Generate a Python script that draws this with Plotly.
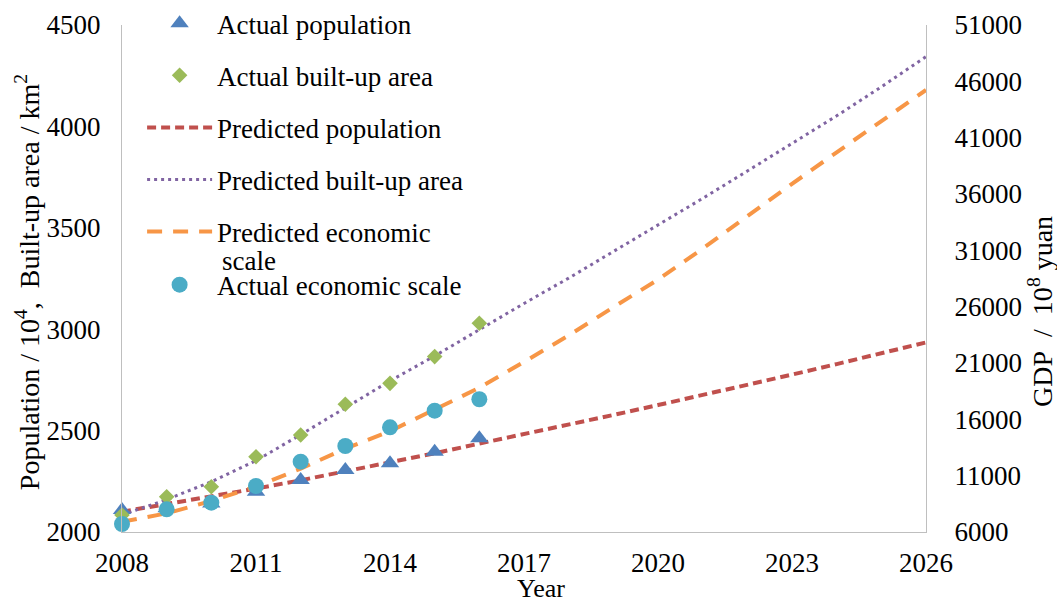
import plotly.graph_objects as go

# ---- data ----
years_actual = [2008, 2009, 2010, 2011, 2012, 2013, 2014, 2015, 2016]
pop_actual = [2108, 2117, 2141, 2199, 2256, 2306, 2339, 2396, 2462]
area_actual = [2084, 2174, 2223, 2371, 2478, 2630, 2733, 2865, 3029]
gdp_actual = [6710, 8015, 8600, 10083, 12240, 13633, 15290, 16770, 17780]

years_pred = [2008, 2009, 2010, 2011, 2012, 2013, 2014, 2015, 2016, 2017,
              2018, 2019, 2020, 2021, 2022, 2023, 2024, 2025, 2026]
pop_pred = [2100, 2137, 2175, 2214, 2255, 2298, 2342, 2388, 2436, 2482,
            2529, 2577, 2626, 2675, 2725, 2776, 2828, 2881, 2935]
area_pred = [2084, 2160, 2248, 2352, 2480, 2612, 2745, 2868, 2998, 3127,
             3252, 3382, 3512, 3645, 3780, 3915, 4052, 4195, 4344]
gdp_pred = [6900, 7660, 8750, 10050, 11620, 13400, 14950, 16850, 18800, 21100,
            23450, 25950, 28400, 31150, 34050, 36900, 39700, 42450, 45230]

FONT = "Liberation Serif"
AX = "#BFBFBF"

fig = go.Figure()

# predicted lines (drawn first, below markers)
fig.add_trace(go.Scatter(x=years_pred, y=pop_pred, mode="lines", name="Predicted population",
                         line=dict(color="#C0504D", width=4, dash="9px,5px"),
                         legendrank=3, legendgroup="g3"))
fig.add_trace(go.Scatter(x=years_pred, y=area_pred, mode="lines", name="Predicted built-up area",
                         line=dict(color="#8064A2", width=3, dash="3px,4px"),
                         legendrank=4, legendgroup="g4"))
fig.add_trace(go.Scatter(x=years_pred, y=gdp_pred, mode="lines", name="Predicted economic",
                         line=dict(color="#F79646", width=4, dash="15px,11px"),
                         yaxis="y2", legendrank=5, legendgroup="g5"))

# actual markers
fig.add_trace(go.Scatter(x=years_actual, y=pop_actual, mode="markers", name="Actual population",
                         marker=dict(symbol="triangle-up", size=16, color="#4F81BD"),
                         cliponaxis=False, legendrank=1, legendgroup="g1"))
fig.add_trace(go.Scatter(x=years_actual, y=area_actual, mode="markers", name="Actual built-up area",
                         marker=dict(symbol="diamond", size=12, color="#9BBB59"),
                         cliponaxis=False, legendrank=2, legendgroup="g2"))
fig.add_trace(go.Scatter(x=years_actual, y=gdp_actual, mode="markers", name="Actual economic scale",
                         marker=dict(symbol="circle", size=16, color="#4BACC6"),
                         yaxis="y2", cliponaxis=False, legend="legend2"))

fig.update_layout(
    width=1057, height=600,
    margin=dict(l=122, r=131, t=25, b=68, autoexpand=False),
    paper_bgcolor="white", plot_bgcolor="white",
    font=dict(family=FONT, size=26, color="black"),
    showlegend=True,
    legend=dict(x=0.025, y=1.051, xanchor="left", yanchor="top",
                bgcolor="rgba(0,0,0,0)", font=dict(family=FONT, size=27),
                traceorder="grouped", tracegroupgap=14, itemwidth=65, valign="top"),
    legend2=dict(x=0.025, y=0.487, xanchor="left", yanchor="middle",
                 bgcolor="rgba(0,0,0,0)", font=dict(family=FONT, size=27),
                 itemwidth=65),
    xaxis=dict(range=[2008, 2026], tick0=2008, dtick=3, showgrid=False, zeroline=False,
               showline=True, linecolor=AX, linewidth=1, ticks="",
               tickfont=dict(family=FONT, size=27), ticklabelstandoff=7),
    yaxis=dict(range=[2000, 4500], tick0=2000, dtick=500, showgrid=False, zeroline=False,
               showline=True, linecolor=AX, linewidth=1, ticks="",
               tickfont=dict(family=FONT, size=27), ticklabelstandoff=15),
    yaxis2=dict(range=[6000, 51000], tick0=6000, dtick=5000, overlaying="y", side="right",
                showgrid=False, zeroline=False, showline=True, linecolor=AX, linewidth=1,
                ticks="", tickformat="d", tickfont=dict(family=FONT, size=27),
                ticklabelstandoff=22),
    annotations=[
        # second line of the "Predicted economic scale" legend entry
        dict(text="scale", xref="paper", yref="paper", x=0.1219, y=0.535,
             xanchor="left", yanchor="middle", showarrow=False,
             font=dict(family=FONT, size=27)),
        dict(text="Year", xref="paper", yref="paper", x=0.521, y=-0.112,
             xanchor="center", yanchor="middle", showarrow=False,
             font=dict(family=FONT, size=26)),
        dict(text="Population / 10<sup>4</sup>,&nbsp;&nbsp;Built-up area / km<sup>2</sup>",
             xref="paper", yref="paper", x=-0.118, y=0.493, textangle=-90,
             xanchor="center", yanchor="middle", showarrow=False,
             font=dict(family=FONT, size=28)),
        dict(text="GDP&nbsp;&nbsp;/&nbsp;&nbsp;10<sup>8</sup>&nbsp;yuan", xref="paper",
             yref="paper", x=1.143, y=0.436,
             textangle=-90, xanchor="center", yanchor="middle", showarrow=False,
             font=dict(family=FONT, size=28)),
    ],
)

fig.write_html("out.html", config={"displayModeBar": False},
               post_script="document.body.style.margin='0';document.body.style.overflow='hidden';")
